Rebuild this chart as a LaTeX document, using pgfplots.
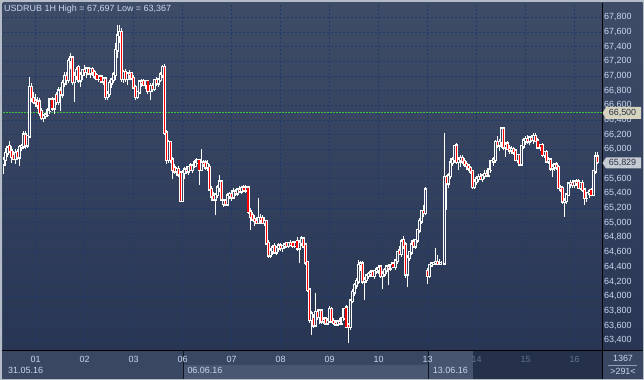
\documentclass[border=0pt]{standalone}
\usepackage{pgfplots}
\pgfplotsset{compat=1.18}
\usepackage{pgfplotstable}
\usepackage{fontspec}
\setmainfont{Liberation Sans}

\definecolor{bgtop}{RGB}{62,76,104}
\definecolor{bgbot}{RGB}{40,54,84}
\definecolor{bgmid}{RGB}{51,65,94}
\definecolor{gridc}{RGB}{30,58,104}
\definecolor{lbl}{RGB}{200,214,236}
\definecolor{dimlbl}{RGB}{98,114,140}
\definecolor{panel}{RGB}{58,71,99}
\definecolor{panellight}{RGB}{74,87,114}
\definecolor{paneldark}{RGB}{37,49,74}
\definecolor{framec}{RGB}{180,188,200}
\definecolor{candlered}{RGB}{255,0,0}
\definecolor{greenline}{RGB}{60,220,60}
\definecolor{boxbeige}{RGB}{214,211,190}
\definecolor{boxgray}{RGB}{198,202,210}
\definecolor{boxtext}{RGB}{40,50,70}

\pgfplotstableread{
i o h l c
0 65800 65900 65660 65860
1 65860 66020 65780 65950
2 65950 66050 65900 66020
3 66040 66120 65950 65980
4 65980 66050 65820 65900
5 65920 65980 65850 65870
6 65870 66000 65800 65950
7 65960 66000 65850 65890
8 65890 66060 65780 66030
9 66030 66080 65980 66040
10 66040 66250 66000 66200
11 66200 66250 66000 66060
12 66060 66200 66020 66180
13 66180 66990 66150 66850
14 66850 66900 66650 66700
15 66700 66780 66620 66650
16 66660 66750 66580 66640
17 66640 66720 66550 66600
18 66650 66700 66460 66500
19 66520 66560 66400 66430
20 66430 66480 66380 66460
21 66460 66500 66420 66470
22 66470 66560 66440 66530
23 66530 66700 66480 66680
24 66680 66720 66520 66560
25 66560 66700 66480 66680
26 66740 66780 66600 66650
27 66650 66850 66600 66800
28 66800 66850 66520 66750
29 66750 66950 66700 66900
30 66900 67060 66850 67000
31 67000 67050 66880 66950
32 66950 67250 66900 67200
33 67200 67310 67100 67250
34 67250 67280 66880 66920
35 66920 67050 66650 67000
36 67000 67120 66950 67080
37 67120 67150 66900 66940
38 66940 67050 66850 67020
39 67020 67100 66950 67080
40 67080 67150 67000 67060
41 67060 67120 66980 67100
42 67100 67130 67020 67040
43 67040 67110 66980 67090
44 67090 67120 67000 67050
45 67050 67080 66960 67000
46 67010 67040 66940 66960
47 66960 67020 66920 66990
48 66990 67020 66900 66930
49 66930 66990 66880 66960
50 66960 66990 66680 66720
51 66720 66800 66680 66760
52 66760 66950 66720 66900
53 66900 66980 66840 66950
54 66950 67050 66900 67020
55 67020 67450 66950 67350
56 67350 67697 67250 67550
57 67550 67690 67450 67600
58 67600 67650 66920 66960
59 66960 67080 66900 67050
60 67050 67100 66920 66960
61 66960 67060 66880 67030
62 67030 67080 66950 67020
63 67040 67060 66940 66970
64 66970 67010 66820 66850
65 66850 66880 66680 66720
66 66720 66800 66690 66780
67 66780 66950 66750 66920
68 66920 66960 66850 66900
69 66930 66960 66860 66880
70 66880 66950 66820 66930
71 66930 66950 66750 66800
72 66800 66900 66680 66860
73 66860 66900 66780 66830
74 66830 66960 66800 66940
75 66940 66990 66860 66900
76 66900 66980 66850 66950
77 66950 67050 66920 67020
78 67020 67150 66980 67120
79 67120 67160 66200 66230
80 66230 66260 65800 65860
81 65860 66130 65820 66100
82 66100 66120 65820 65860
83 65860 65900 65600 65720
84 65750 65800 65660 65700
85 65700 65760 65640 65730
86 65730 65770 65620 65660
87 65680 65710 65280 65300
88 65300 65720 65280 65680
89 65680 65760 65600 65720
90 65720 65780 65660 65700
91 65700 65780 65650 65760
92 65780 65820 65700 65720
93 65720 65800 65680 65780
94 65780 65850 65740 65820
95 65820 65880 65760 65850
96 65850 65870 65520 65720
97 65720 66000 65700 65820
98 65820 65860 65760 65800
99 65820 65850 65720 65760
100 65760 65850 65700 65800
101 65760 65800 65440 65460
102 65460 65500 65300 65360
103 65360 65420 65290 65320
104 65320 65400 65100 65380
105 65380 65520 65340 65480
106 65480 65650 65420 65560
107 65560 65580 65300 65320
108 65260 65330 65220 65300
109 65300 65320 65230 65250
110 65250 65400 65230 65370
111 65370 65420 65320 65390
112 65390 65440 65300 65350
113 65350 65470 65330 65420
114 65420 65460 65360 65400
115 65400 65480 65370 65450
116 65450 65500 65400 65430
117 65430 65500 65390 65470
118 65480 65510 65420 65440
119 65440 65520 65410 65480
120 65480 65500 65120 65150
121 65150 65200 64900 65080
122 65100 65150 65020 65050
123 65050 65100 64960 65030
124 65030 65080 64980 65000
125 65000 65340 64980 65060
126 65060 65120 64980 65040
127 65060 65100 64980 65000
128 65000 65080 64960 65020
129 65020 65040 64700 64720
130 64720 64760 64520 64560
131 64560 64660 64520 64620
132 64620 64700 64560 64660
133 64680 64720 64580 64600
134 64600 64680 64560 64650
135 64650 64720 64600 64690
136 64690 64720 64620 64660
137 64660 64700 64600 64680
138 64680 64720 64640 64700
139 64720 64740 64660 64690
140 64690 64740 64650 64720
141 64720 64760 64680 64700
142 64720 64750 64660 64690
143 64690 64750 64660 64730
144 64750 64800 64620 64650
145 64650 64760 64450 64730
146 64730 64820 64680 64780
147 64780 64800 64650 64680
148 64700 64720 64430 64460
149 64460 64480 64060 64090
150 64090 64110 63640 63680
151 63680 63800 63470 63760
152 63700 63760 63560 63600
153 63600 64040 63580 63780
154 63780 63820 63680 63720
155 63720 63820 63620 63800
156 63800 63820 63620 63660
157 63660 63720 63620 63680
158 63690 63720 63610 63630
159 63630 63700 63600 63660
160 63660 63860 63640 63820
161 63820 63850 63640 63660
162 63660 63700 63610 63640
163 63640 63680 63600 63620
164 63620 63680 63590 63650
165 63650 63700 63610 63630
166 63630 63720 63610 63700
167 63700 63840 63660 63820
168 63840 63880 63560 63580
169 63600 63640 63367 63580
170 63580 63960 63540 63940
171 63940 64100 63900 64050
172 64050 64180 64000 64150
173 64150 64250 64100 64200
174 64200 64490 64160 64420
175 64420 64480 64340 64440
176 64440 64480 64160 64200
177 64200 64260 63950 64220
178 64220 64300 64180 64280
179 64280 64330 64240 64300
180 64300 64360 64260 64320
181 64330 64360 64260 64280
182 64280 64360 64240 64340
183 64340 64400 64300 64360
184 64360 64420 64300 64380
185 64400 64420 64250 64280
186 64280 64340 64100 64300
187 64300 64380 64260 64350
188 64350 64420 64300 64400
189 64400 64440 64150 64380
190 64380 64440 64340 64420
191 64440 64460 64380 64400
192 64400 64500 64360 64480
193 64480 64620 64440 64600
194 64620 64680 64560 64580
195 64580 64780 64540 64740
196 64760 64820 64640 64680
197 64700 64740 64250 64300
198 64300 64560 64120 64520
199 64520 64620 64480 64600
200 64600 64760 64560 64700
201 64740 64780 64660 64680
202 64680 64780 64640 64760
203 64760 64920 64720 64900
204 64900 65060 64860 65020
205 65020 65180 64980 65160
206 65160 65240 65080 65140
207 65140 65490 65100 65450
208 64340 64380 64170 64280
209 64280 64440 64250 64420
210 64420 64460 64400 64440
211 64440 64460 64420 64450
212 64450 64660 64430 64460
213 64460 64560 64430 64440
214 64440 64500 64420 64450
215 64450 64480 64430 64450
216 64450 66230 64430 65620
217 65620 65650 65180 65540
218 65540 65680 65480 65640
219 65640 65880 65600 65820
220 65820 65900 65780 65860
221 65860 66060 65820 66040
222 66050 66090 65800 65830
223 65830 65900 65720 65850
224 65850 65920 65760 65880
225 65880 65920 65800 65840
226 65840 65880 65760 65800
227 65800 65840 65720 65780
228 65780 65800 65700 65740
229 65740 65780 65660 65700
230 65700 65720 65460 65490
231 65490 65600 65460 65560
232 65560 65640 65520 65600
233 65600 65660 65560 65620
234 65620 65680 65580 65600
235 65600 65660 65560 65640
236 65640 65720 65600 65660
237 65660 65720 65620 65650
238 65650 65740 65620 65720
239 65720 65860 65680 65840
240 65840 65900 65780 65860
241 65860 66130 65820 66100
242 66100 66180 66020 66060
243 66060 66140 65980 66100
244 66100 66300 66020 66280
245 66280 66310 65990 66030
246 66030 66100 65900 66060
247 66080 66120 65990 66010
248 66010 66060 65940 65990
249 65990 66040 65940 66000
250 66000 66030 65920 65960
251 65980 66000 65840 65860
252 65860 65940 65820 65920
253 65920 65940 65770 65800
254 65800 66060 65790 66040
255 66040 66150 66000 66120
256 66120 66180 66060 66140
257 66140 66200 66080 66110
258 66110 66180 66060 66160
259 66160 66200 66100 66130
260 66130 66220 66080 66180
261 66180 66220 66100 66120
262 66120 66150 66000 66030
263 66030 66080 65980 66060
264 66060 66090 65900 65930
265 65930 65980 65880 65960
266 65960 65990 65820 65840
267 65840 65900 65800 65860
268 65860 65880 65700 65740
269 65740 65800 65620 65760
270 65760 65820 65700 65790
271 65790 65830 65720 65760
272 65760 65790 65460 65480
273 65480 65520 65420 65460
274 65470 65500 65260 65290
275 65290 65340 65080 65300
276 65300 65400 65260 65380
277 65380 65560 65360 65530
278 65530 65580 65480 65540
279 65540 65580 65480 65520
280 65520 65580 65470 65560
281 65560 65600 65500 65540
282 65560 65590 65460 65480
283 65480 65560 65440 65540
284 65540 65580 65420 65450
285 65450 65480 65240 65340
286 65340 65420 65280 65400
287 65400 65460 65340 65420
288 65440 65480 65360 65380
289 65380 65720 65360 65700
290 65700 65960 65660 65900
291 65900 65960 65800 65829
}\candles

\begin{document}
\begin{tikzpicture}
\useasboundingbox (0bp,0bp) rectangle (644bp,380bp);
% frame and panels
\fill[framec] (0bp,0bp) rectangle (644bp,380bp);
\fill[panel] (1.5bp,1.5bp) rectangle (642.5bp,377bp);
\shade[top color=bgtop,bottom color=bgbot] (602bp,29bp) rectangle (642.5bp,377bp);
\fill[panellight] (183bp,1.5bp) rectangle (428bp,15bp);
\fill[panellight!85!panel] (428bp,1.5bp) rectangle (473bp,29bp);
\fill[paneldark] (473bp,1.5bp) rectangle (602bp,29bp);
\draw[black!70!panel, line width=0.8bp] (183bp,1.5bp) -- (183bp,29bp);
\draw[black!70!panel, line width=0.8bp] (428bp,1.5bp) -- (428bp,29bp);

\begin{axis}[
  at={(3bp,29bp)}, anchor=south west,
  scale only axis, width=599bp, height=348bp,
  xmin=-0.016, xmax=293.37, ymin=63252, ymax=67996,
  axis line style={draw=none},
  axis background/.style={shade, top color=bgtop, bottom color=bgbot},
  xtick={16,40,64,88,112,136,160,184,208,232,256,280},
  xticklabels={01,02,03,06,07,08,09,10,13,\textcolor{dimlbl}{14},\textcolor{dimlbl}{15},\textcolor{dimlbl}{16}},
  ytick={63400,63600,63800,64000,64200,64400,64600,64800,65000,65200,65400,65600,65800,66000,66200,66400,66600,66800,67000,67200,67400,67600,67800},
  scaled y ticks=false,
  yticklabel pos=right,
  major tick length=0pt,
  grid=major,
  major grid style={gridc, dash pattern=on 2bp off 2bp, line width=0.8bp},
  tick label style={font=\fontsize{9}{10}\selectfont, color=lbl},
  xticklabel style={anchor=base, yshift=-11.3bp, inner sep=0pt},
  yticklabel style={anchor=west, xshift=2bp, inner sep=0pt},
  /pgf/number format/fixed,
  /pgf/number format/1000 sep={,},
  /pgf/number format/assume math mode=true,
]
% reference line at 66,500
\addplot[forget plot, greenline!85!bgmid, dash pattern=on 1.5bp off 1.5bp, line width=0.7bp]
  coordinates {(-0.016,66500) (293.37,66500)};
% wicks
\addplot[forget plot, draw=none, mark=none,
  error bars/.cd, y dir=plus, y explicit, error mark=none,
  error bar style={draw=white, line width=1bp, solid}]
  table[x=i, y=l, y error plus expr={\thisrow{h}-\thisrow{l}}] {\candles};
% body outlines
\addplot[forget plot, draw=none, mark=none,
  error bars/.cd, y dir=plus, y explicit, error mark=none,
  error bar style={draw=white, line width=3bp, line cap=rect, solid}]
  table[x=i, y expr={min(\thisrow{o},\thisrow{c})}, y error plus expr={abs(\thisrow{c}-\thisrow{o})}] {\candles};
% hollow up bodies
\addplot[forget plot, draw=none, mark=none,
  restrict expr to domain={\thisrow{c}-\thisrow{o}}{0.5:100000},
  error bars/.cd, y dir=plus, y explicit, error mark=none,
  error bar style={draw=bgmid, line width=0.9bp, solid}]
  table[x=i, y=o, y error plus expr={\thisrow{c}-\thisrow{o}}] {\candles};
% red down bodies
\addplot[forget plot, draw=none, mark=none,
  restrict expr to domain={\thisrow{c}-\thisrow{o}}{-100000:-0.5},
  error bars/.cd, y dir=plus, y explicit, error mark=none,
  error bar style={draw=candlered, line width=1.1bp, solid}]
  table[x=i, y=c, y error plus expr={\thisrow{o}-\thisrow{c}}] {\candles};
\end{axis}

% separators
\draw[black, line width=1bp] (602bp,1.5bp) -- (602bp,377bp);
\draw[black, line width=1bp] (1.5bp,29bp) -- (642.5bp,29bp);

% title
\node[anchor=base west, inner sep=0pt, text=lbl, font=\fontsize{9}{10}\selectfont]
  at (4bp,368.3bp) {USDRUB 1H High = 67,697 Low = 63,367};

% price boxes
\fill[boxbeige] (602.5bp,267bp) -- (606bp,273bp) -- (641bp,273bp) -- (641bp,261bp) -- (606bp,261bp) -- cycle;
\node[anchor=center, inner sep=0pt, text=boxtext, font=\fontsize{9}{10}\selectfont] at (622.5bp,267bp) {66,500};
\fill[boxgray] (602.5bp,217bp) -- (606bp,222.5bp) -- (641bp,222.5bp) -- (641bp,211.5bp) -- (606bp,211.5bp) -- cycle;
\node[anchor=center, inner sep=0pt, text=boxtext, font=\fontsize{9}{10}\selectfont] at (622.5bp,217bp) {65,829};

% bottom date labels
\node[anchor=base west, inner sep=0pt, text=lbl, font=\fontsize{9}{10}\selectfont] at (8bp,6.7bp) {31.05.16};
\node[anchor=base west, inner sep=0pt, text=lbl, font=\fontsize{9}{10}\selectfont] at (187.3bp,6.7bp) {06.06.16};
\node[anchor=base west, inner sep=0pt, text=lbl, font=\fontsize{9}{10}\selectfont] at (432.7bp,6.7bp) {13.06.16};

% right bottom counter
\node[anchor=center, inner sep=0pt, text=lbl, font=\fontsize{9}{10}\selectfont] at (623bp,21.3bp) {1367};
\draw[lbl!60!panel, line width=0.6bp] (608bp,15bp) -- (637bp,15bp);
\node[anchor=center, inner sep=0pt, text=lbl, font=\fontsize{9}{10}\selectfont] at (623bp,8.3bp) {>291<};
\end{tikzpicture}
\end{document}
